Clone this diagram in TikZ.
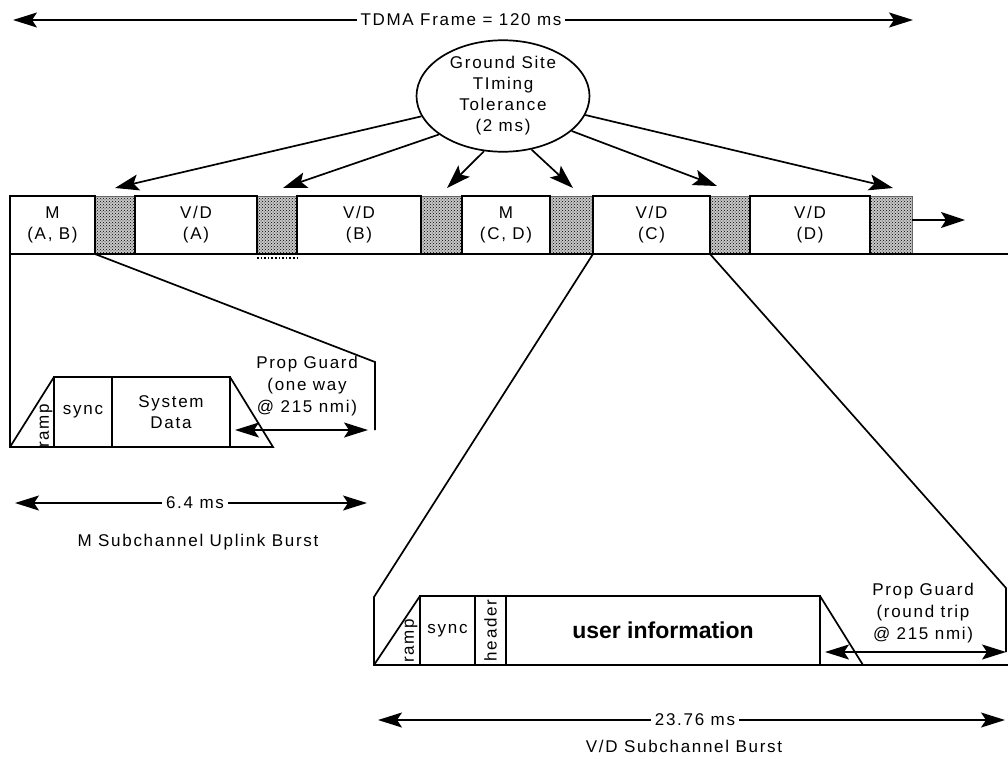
\documentclass[tikz,border=0pt]{standalone}
\usepackage{fontspec}
\setmainfont{Liberation Sans}[LetterSpace=10]
\newfontfamily\uifont{Liberation Sans}
\usetikzlibrary{arrows.meta,shapes.geometric,patterns}
\begin{document}
\begin{tikzpicture}[x=1pt,y=-1pt,
  every node/.style={font=\fontsize{17}{21}\selectfont, inner sep=1pt},
  ln/.style={line width=1.7pt},
  ar/.style={-{Stealth[length=24pt,width=16pt,inset=5pt]}},
  dar/.style={{Stealth[length=24pt,width=15pt,inset=5pt]}-{Stealth[length=24pt,width=15pt,inset=5pt]}},
  slot/.style={draw, line width=1.8pt, minimum height=58pt, anchor=north west, inner sep=0pt, outer sep=0pt, align=center},
  guard/.style={draw=black!60, line width=0.6pt, preaction={fill=black!22}, pattern=crosshatch dots, minimum height=58pt, anchor=north west, inner sep=0pt, outer sep=0pt},
  burst/.style={draw, line width=1.6pt, minimum height=70pt, anchor=north west, inner sep=0pt, outer sep=0pt, align=center},
  vburst/.style={burst, minimum height=69pt},
  lbl/.style={align=center, font=\fontsize{17}{22}\selectfont},
  gap/.style={fill=white, inner sep=4pt}]
\useasboundingbox (0,0) rectangle (1008,758);
\fill[white] (0,0) rectangle (1008,758);

% title
\draw[ln, dar] (13,20) -- (913,20);
\node[gap] (title) at (461,20) {TDMA Frame = 120 ms};

% ground site ellipse
\node[ellipse, draw, line width=1.7pt, minimum width=173pt, minimum height=103pt, inner sep=0pt, align=center] (gst) at (503,96) {Ground Site\\TIming\\Tolerance\\(2 ms)};

% frame slots
\node[guard, minimum width=40pt] (g1) at (95,196) {};
\node[guard, minimum width=40pt] (g2) at (257,196) {};
\node[guard, minimum width=41pt] (g3) at (421,196) {};
\node[guard, minimum width=43pt] (g4) at (550,196) {};
\node[guard, minimum width=40pt] (g5) at (710,196) {};
\node[guard, minimum width=42pt] (g6) at (870,196) {};
\node[slot, minimum width=85pt] (MAB) at (10,196) {M\\(A, B)};
\node[slot, minimum width=122pt] (VDA) at (135,196) {V/D\\(A)};
\node[slot, minimum width=124pt] (VDB) at (297,196) {V/D\\(B)};
\node[slot, minimum width=88pt] (MCD) at (462,196) {M\\(C, D)};
\node[slot, minimum width=117pt] (VDC) at (593,196) {V/D\\(C)};
\node[slot, minimum width=120pt] (VDD) at (750,196) {V/D\\(D)};
\draw[line width=1.8pt] (MAB.south west) -- (1008,254);
\draw[dotted, line width=1.6pt] ([yshift=-4pt]g2.south west) -- ([yshift=-4pt]g2.south east);
\coordinate (fend) at (965,220);
\draw[ln, ar] ([yshift=5pt]g6.east) -- (fend);

% timing tolerance arrows
\coordinate (t1) at (115,188);
\coordinate (t2) at (283,188);
\coordinate (t3) at (447,188);
\coordinate (t4) at (573,188);
\coordinate (t5) at (717,186);
\coordinate (t6) at (893,188);
\draw[ln, ar] (gst.194.5) -- (t1);
\draw[ln, ar] (gst.211) -- (t2);
\draw[ln, ar] (gst.251) -- (t3);
\draw[ln, ar] (gst.298) -- (t4);
\draw[ln, ar] (gst.333) -- (t5);
\draw[ln, ar] (gst.347) -- (t6);

% M subchannel uplink burst
\node[burst, minimum width=58pt] (msync) at (54,377) {sync};
\node[burst, minimum width=118pt] (msys) at (112,377) {System\\Data};
\coordinate (mfoot) at (10,447);
\coordinate (mtail) at (273,447);
\draw[ln] (MAB.south west) -- (mfoot) -- (msync.south west);
\draw[ln] (mfoot) -- (msync.north west);
\draw[ln] (msys.north east) -- (mtail) -- (msys.south east);
\node[rotate=90] (mramp) at (46,426) {ramp};
\coordinate (mcorner) at (375,362);
\coordinate (mend) at (375,430);
\draw[ln] (MAB.south east) -- (mcorner) -- (mend);
\coordinate (mpl) at (235,430);
\coordinate (mpr) at (368,430);
\draw[ln, dar] (mpl) -- (mpr);
\node[lbl] (mprop) at (307,386) {Prop Guard\\(one way\\@ 215 nmi)};
\coordinate (m64l) at (15,503);
\coordinate (m64r) at (367,503);
\draw[ln, dar] (m64l) -- (m64r);
\node[gap] (m64) at (195,503) {6.4 ms};
\node (mcap) at (198,542) {M Subchannel Uplink Burst};

% V/D subchannel burst
\node[vburst, minimum width=55pt] (vsync) at (420,596) {sync};
\node[vburst, minimum width=31pt] (vhead) at (475,596) {};
\node[vburst, minimum width=314pt] (vuser) at (506,596) {\uifont\bfseries\fontsize{23}{26}\selectfont user information};
\node[rotate=90] at (vhead.center) {header};
\node[rotate=90] (vramp) at (411,641) {ramp};
\coordinate (vfoot) at (374,665);
\coordinate (vtop) at (374,597);
\coordinate (vtail) at (863,665);
\coordinate (vright) at (1008,665);
\draw[ln] (VDC.south west) -- (vtop) -- (vfoot) -- (vright);
\draw[ln] (vfoot) -- (vsync.north west);
\draw[ln] (vuser.north east) -- (vtail);
\coordinate (vcorner) at (1006,588);
\coordinate (vend) at (1006,652);
\draw[ln] (VDC.south east) -- (vcorner) -- (vend);
\coordinate (vpl) at (825,652);
\coordinate (vpr) at (1006,652);
\draw[ln, dar] (vpl) -- (vpr);
\node[lbl] (vprop) at (923,613) {Prop Guard\\(round trip\\@ 215 nmi)};
\coordinate (v23l) at (378,720);
\coordinate (v23r) at (1005,720);
\draw[ln, dar] (v23l) -- (v23r);
\node[gap] (v23) at (695,720) {23.76 ms};
\node (vcap) at (684,746) {V/D Subchannel Burst};
\end{tikzpicture}
\end{document}
